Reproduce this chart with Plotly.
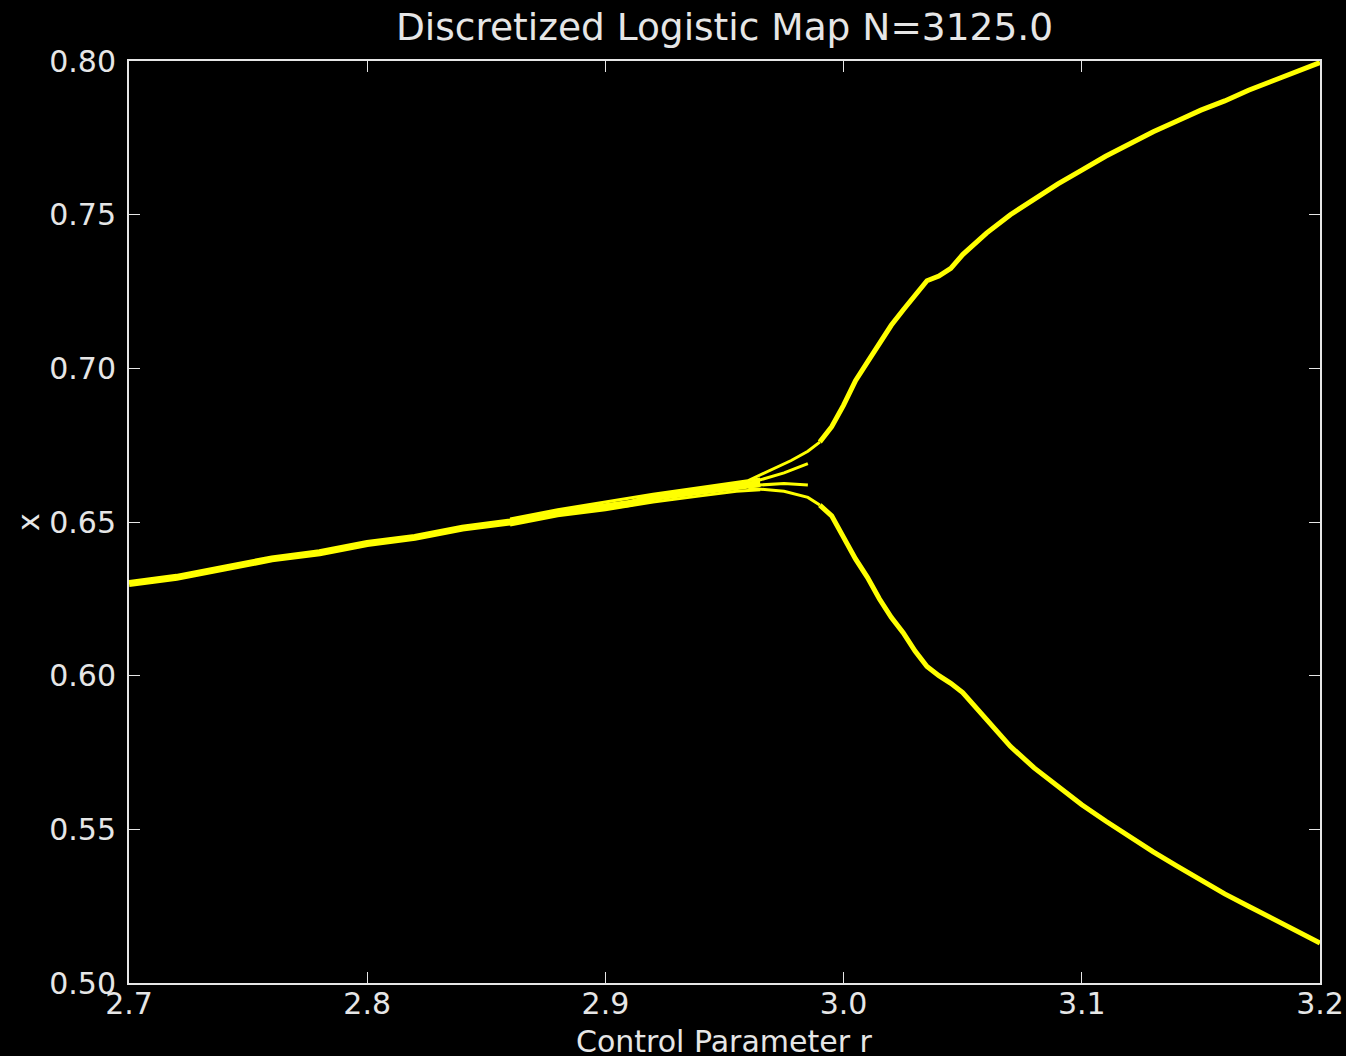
import plotly.graph_objects as go

# ---- data ----
# stable (single) branch
r_main = [2.700, 2.720, 2.740, 2.760, 2.780, 2.800, 2.820, 2.840, 2.860, 2.880,
          2.900, 2.910, 2.920, 2.930, 2.940, 2.950, 2.960, 2.965]
x_main = [0.630, 0.632, 0.635, 0.638, 0.640, 0.643, 0.645, 0.648, 0.650, 0.653,
          0.655, 0.656, 0.658, 0.659, 0.660, 0.661, 0.662, 0.6625]

# thickened transient band just before the split
r_band = [2.860, 2.880, 2.900, 2.920, 2.940, 2.955, 2.965]
x_band_hi = [0.651, 0.654, 0.6565, 0.659, 0.6612, 0.6628, 0.664]
x_band_lo = [0.649, 0.652, 0.654, 0.6565, 0.6585, 0.660, 0.6605]

# transient strands near the period doubling
r_sA = [2.960, 2.970, 2.978, 2.985, 2.990]
x_sA = [0.6635, 0.667, 0.670, 0.673, 0.676]
r_sB = [2.962, 2.975, 2.985]
x_sB = [0.663, 0.666, 0.669]
r_sC = [2.964, 2.975, 2.985]
x_sC = [0.662, 0.6625, 0.662]
r_sD = [2.960, 2.975, 2.985, 2.990]
x_sD = [0.661, 0.660, 0.658, 0.6555]

# period-2 branches
r_up = [2.990, 2.995, 3.000, 3.005, 3.010, 3.015, 3.020, 3.025, 3.030, 3.035,
        3.040, 3.045, 3.050, 3.060, 3.070, 3.080, 3.090, 3.100, 3.110, 3.120,
        3.130, 3.140, 3.150, 3.160, 3.170, 3.180, 3.190, 3.200]
x_up = [0.676, 0.681, 0.688, 0.696, 0.702, 0.708, 0.714, 0.719, 0.724, 0.7285,
        0.730, 0.7325, 0.737, 0.744, 0.750, 0.755, 0.760, 0.7645, 0.769, 0.773,
        0.777, 0.7805, 0.784, 0.787, 0.7905, 0.7935, 0.7965, 0.7995]

r_lo = [2.990, 2.995, 3.000, 3.005, 3.010, 3.015, 3.020, 3.025, 3.030, 3.035,
        3.040, 3.045, 3.050, 3.060, 3.070, 3.080, 3.090, 3.100, 3.110, 3.120,
        3.130, 3.140, 3.150, 3.160, 3.170, 3.180, 3.190, 3.200]
x_lo = [0.6555, 0.652, 0.645, 0.638, 0.632, 0.625, 0.619, 0.614, 0.608, 0.603,
        0.600, 0.5975, 0.5945, 0.5855, 0.577, 0.570, 0.5638, 0.558, 0.5527, 0.5476,
        0.5427, 0.538, 0.5335, 0.529, 0.525, 0.521, 0.517, 0.513]

x_ticks = [2.7, 2.8, 2.9, 3.0, 3.1, 3.2]
x_ticktext = ["2.7", "2.8", "2.9", "3.0", "3.1", "3.2"]
y_ticks = [0.50, 0.55, 0.60, 0.65, 0.70, 0.75, 0.80]
y_ticktext = ["0.50", "0.55", "0.60", "0.65", "0.70", "0.75", "0.80"]

YEL = "#ffff00"
FG = "#e6e6e6"
FONT = "DejaVu Sans"

fig = go.Figure()

def add(r, x, w):
    fig.add_trace(go.Scatter(x=r, y=x, mode="lines",
                             line=dict(color=YEL, width=w),
                             hoverinfo="skip", showlegend=False))

add(r_main, x_main, 7)
add(r_band, x_band_hi, 3)
add(r_band, x_band_lo, 3)
add(r_sA, x_sA, 3)
add(r_sB, x_sB, 3)
add(r_sC, x_sC, 3)
add(r_sD, x_sD, 3)
add(r_up, x_up, 5)
add(r_lo, x_lo, 5)

axis_common = dict(
    ticks="inside", ticklen=11, tickwidth=1, tickcolor=FG,
    showline=True, linewidth=2, linecolor=FG, mirror="allticks",
    showgrid=False, zeroline=False, automargin=False,
    tickfont=dict(family=FONT, size=30, color=FG),
)

fig.update_layout(
    width=1346, height=1056, autosize=False,
    margin=dict(l=129, r=26, t=61, b=73, pad=0, autoexpand=False),
    paper_bgcolor="black", plot_bgcolor="black",
    title=dict(text="Discretized Logistic Map N=3125.0",
               font=dict(family=FONT, size=37.5, color=FG),
               x=0.5, xref="paper", y=1 - 27 / 1056, yref="container",
               xanchor="center", yanchor="middle"),
    xaxis=dict(range=[2.7, 3.2], tickvals=x_ticks, ticktext=x_ticktext,
               ticklabelstandoff=-7, **axis_common),
    yaxis=dict(range=[0.5, 0.8], tickvals=y_ticks, ticktext=y_ticktext,
               ticklabelstandoff=5, **axis_common),
    annotations=[
        dict(text="Control Parameter r", xref="paper", yref="paper",
             x=0.5, y=-(1041 - 983) / 922, xanchor="center", yanchor="middle",
             showarrow=False, font=dict(family=FONT, size=30, color=FG)),
        dict(text="x", xref="paper", yref="paper",
             x=-(129 - 28) / 1191, y=0.5, xanchor="center", yanchor="middle",
             textangle=-90, showarrow=False, font=dict(family=FONT, size=30, color=FG)),
    ],
)

fig.write_html("out.html", config={"responsive": False})
